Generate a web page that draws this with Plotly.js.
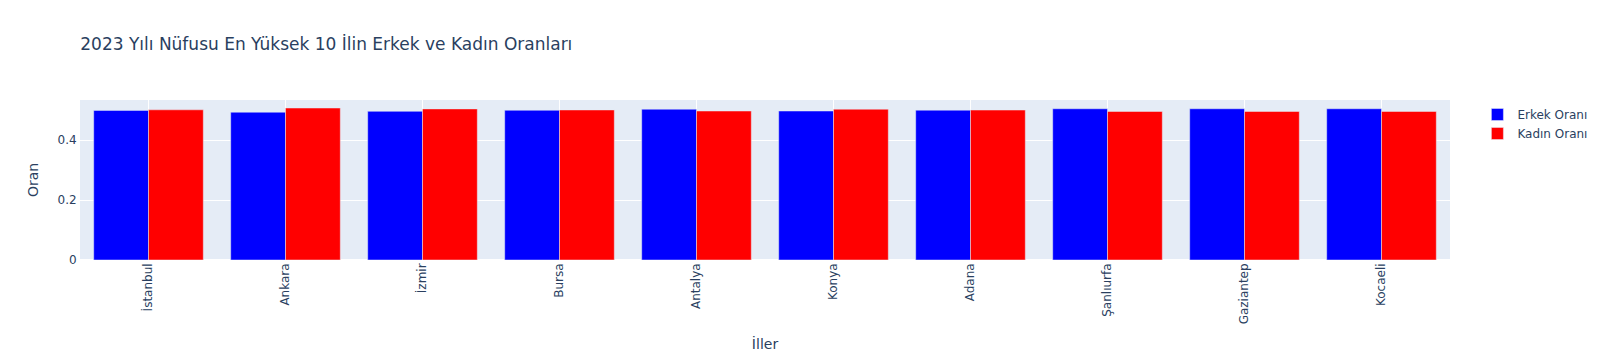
<!DOCTYPE html>
<html>
<head>
<meta charset="utf-8">
<script src="https://cdn.plot.ly/plotly-3.0.1.min.js"></script>
<style>html,body{margin:0;padding:0;background:#fff;}</style>
</head>
<body>
<div id="chart" style="width:1605px;height:360px;"></div>
<script>
const cities = ["İstanbul", "Ankara", "İzmir", "Bursa", "Antalya", "Konya", "Adana", "Şanlıurfa", "Gaziantep", "Kocaeli"];
const maleRatio = [0.4990, 0.4930, 0.4960, 0.4995, 0.5030, 0.4970, 0.4998, 0.5045, 0.5045, 0.5045];
const femaleRatio = [0.5010, 0.5070, 0.5040, 0.5005, 0.4970, 0.5030, 0.5002, 0.4955, 0.4955, 0.4955];

const barLine = {color: "#E5ECF6", width: 0.5};
const data = [
  {type: "bar", name: "Erkek Oranı", x: cities, y: maleRatio, marker: {color: "blue", line: barLine}},
  {type: "bar", name: "Kadın Oranı", x: cities, y: femaleRatio, marker: {color: "red", line: barLine}}
];
const layout = {
  width: 1605, height: 360,
  font: {family: "DejaVu Sans, Verdana, sans-serif", size: 12, color: "#2a3f5f"},
  paper_bgcolor: "white",
  plot_bgcolor: "#E5ECF6",
  title: {text: "2023 Yılı Nüfusu En Yüksek 10 İlin Erkek ve Kadın Oranları", x: 0.05, font: {size: 17}},
  barmode: "group",
  margin: {l: 80, r: 155, t: 100, b: 100},
  xaxis: {title: {text: "İller", standoff: 15}, tickangle: -90, automargin: true,
          gridcolor: "white", linecolor: "white", ticks: "", showline: false, zeroline: false},
  yaxis: {title: {text: "Oran", standoff: 15}, automargin: true, dtick: 0.2,
          gridcolor: "white", gridwidth: 1, linecolor: "white", ticks: "", zerolinecolor: "white", zerolinewidth: 2},
  legend: {font: {size: 12}},
  hovermode: "closest"
};
Plotly.newPlot("chart", data, layout, {displayModeBar: false});
</script>
</body>
</html>
